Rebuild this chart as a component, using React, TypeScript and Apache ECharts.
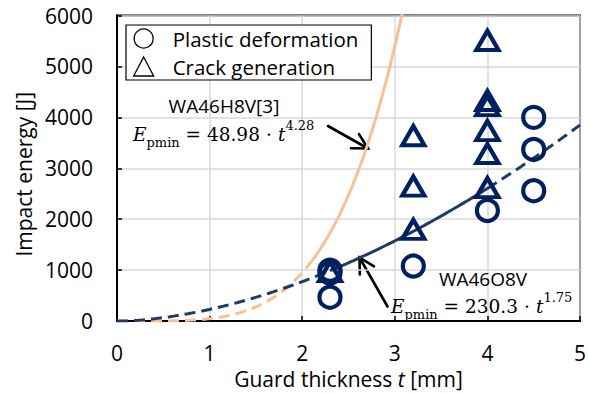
import React, { useEffect, useRef } from 'react';
import * as echarts from 'echarts';

// ---- data ----
const plasticT = [2.3, 2.3, 2.3, 3.2, 4.0, 4.5, 4.5, 4.5];
const plasticE = [470, 945, 1000, 1080, 2170, 2560, 3370, 4000];
const crackT = [2.3, 3.2, 3.2, 3.2, 4.0, 4.0, 4.0, 4.0, 4.0, 4.0];
const crackE = [975, 1800, 2650, 3640, 2620, 3290, 3740, 4230, 4330, 5510];

// fitted curves shown in the chart: E = a * t^b
const h8vCoef = 48.98;
const h8vExp = 4.28;
const o8vCoef = 230.3;
const o8vExp = 1.75;
// ranges (t) where curves are drawn solid / dashed
const h8vDashRange = [0, 2.1];
const h8vSolidRange = [2.1, 3.1];
const o8vDashRange1 = [0, 2.3];
const o8vSolidRange = [2.3, 4.0];
const o8vDashRange2 = [4.0, 5.0];

const xMin = 0, xMax = 5, xInterval = 1;
const yMin = 0, yMax = 6000, yInterval = 1000;

const seriesNames = ['Plastic deformation', 'Crack generation'];

function fitCurve(a: number, b: number, range: number[], steps = 60) {
  const pts: number[][] = [];
  for (let i = 0; i <= steps; i++) {
    const t = range[0] + ((range[1] - range[0]) * i) / steps;
    pts.push([t, a * Math.pow(t, b)]);
  }
  return pts;
}

function arrow(x1: number, y1: number, x2: number, y2: number) {
  const ang = Math.atan2(y2 - y1, x2 - x1);
  const len = 17;
  const spread = 0.5;
  const a1 = ang + Math.PI - spread;
  const a2 = ang + Math.PI + spread;
  const style = { stroke: '#000', lineWidth: 2.6, fill: null as any, lineCap: 'round' as const };
  return [
    { type: 'line', silent: true, shape: { x1, y1, x2, y2 }, style },
    {
      type: 'polyline',
      silent: true,
      shape: {
        points: [
          [x2 + len * Math.cos(a1), y2 + len * Math.sin(a1)],
          [x2, y2],
          [x2 + len * Math.cos(a2), y2 + len * Math.sin(a2)],
        ],
      },
      style,
    },
  ];
}

const serif = '"DejaVu Serif", "Liberation Serif", serif';
const sans = '"Open Sans", "Noto Sans", sans-serif';
const formulaRich = {
  e: { fontFamily: serif, fontStyle: 'italic', fontSize: 18.5, lineHeight: 30, color: '#000' },
  s: { fontFamily: serif, fontSize: 13, lineHeight: 14, verticalAlign: 'bottom', color: '#000' },
  m: { fontFamily: serif, fontSize: 18.5, lineHeight: 30, color: '#000' },
  t: { fontFamily: serif, fontStyle: 'italic', fontSize: 18.5, lineHeight: 30, color: '#000' },
  p: { fontFamily: serif, fontSize: 13, lineHeight: 14, verticalAlign: 'top', color: '#000' },
};

function formulaText(coef: number, exp: number) {
  return `{e|E}{s|pmin}{m| = ${coef} ⋅ }{t|t}{p|${exp.toFixed(2)}}`;
}

const navy = '#002060';
const lineBlue = '#1F3A64';
const peach = '#F9C095';

export default function App() {
  const ref = useRef<HTMLDivElement>(null);
  useEffect(() => {
    if (!ref.current) return;
    const chart = echarts.init(ref.current, undefined, { renderer: 'svg' });
    const scatterStyle = { color: 'rgba(0,0,0,0)', borderColor: navy, borderWidth: 4.2, opacity: 1 };
    const option: any = {
      animation: false,
      backgroundColor: '#fff',
      grid: {
        left: 117, right: 9, top: 15.5, bottom: 68.5,
        show: true, borderColor: '#000', borderWidth: 2, backgroundColor: 'transparent',
      },
      xAxis: {
        type: 'value', min: xMin, max: xMax, interval: xInterval,
        name: '{n|Guard thickness }{i|t}{n| [mm]}',
        nameLocation: 'middle', nameGap: 44,
        nameTextStyle: {
          rich: {
            n: { fontFamily: sans, fontSize: 21, color: '#000' },
            i: { fontFamily: sans, fontSize: 21, fontStyle: 'italic', color: '#000' },
          },
        },
        axisLine: { show: true, lineStyle: { color: '#000', width: 2 } },
        axisTick: { show: true, inside: true, length: 5, lineStyle: { color: '#000', width: 1.5 } },
        axisLabel: { fontFamily: sans, fontSize: 21, color: '#000', margin: 21, formatter: (v: number) => String(v) },
        splitLine: { show: true, lineStyle: { color: '#D9D9D9', width: 1.5 } },
      },
      yAxis: {
        type: 'value', min: yMin, max: yMax, interval: yInterval,
        name: 'Impact energy [J]',
        nameLocation: 'middle', nameGap: 80,
        nameTextStyle: { fontFamily: sans, fontSize: 21, color: '#000', padding: [0, 12, 0, 0] },
        axisLine: { show: true, lineStyle: { color: '#000', width: 2 } },
        axisTick: { show: true, inside: true, length: 5, lineStyle: { color: '#000', width: 1.5 } },
        axisLabel: { fontFamily: sans, fontSize: 21, color: '#000', margin: 24, formatter: (v: number) => String(v) },
        splitLine: { show: true, lineStyle: { color: '#D9D9D9', width: 1.5 } },
      },
      legend: {
        orient: 'vertical', left: 126, top: 25,
        data: [
          { name: seriesNames[0], icon: 'circle', itemStyle: { color: 'rgba(0,0,0,0)', borderColor: '#000', borderWidth: 1.3, opacity: 1 } },
          { name: seriesNames[1], icon: 'triangle', itemStyle: { color: 'rgba(0,0,0,0)', borderColor: '#000', borderWidth: 1.3, opacity: 1 } },
        ],
        itemWidth: 20, itemHeight: 19, itemGap: 7,
        padding: [3, 13, 3, 7],
        borderColor: '#000', borderWidth: 1.2, backgroundColor: '#fff',
        textStyle: { fontFamily: sans, fontSize: 20.5, color: '#000', padding: [0, 0, 0, 14] },
      },
      series: [
        { type: 'line', name: 'h8v-dash', data: fitCurve(h8vCoef, h8vExp, h8vDashRange), showSymbol: false, symbol: 'none', lineStyle: { color: peach, width: 3, type: [11, 6] }, z: 2 },
        { type: 'line', name: 'h8v-solid', data: fitCurve(h8vCoef, h8vExp, h8vSolidRange), showSymbol: false, symbol: 'none', lineStyle: { color: peach, width: 3 }, z: 2 },
        { type: 'line', name: 'o8v-dash1', data: fitCurve(o8vCoef, o8vExp, o8vDashRange1), showSymbol: false, symbol: 'none', lineStyle: { color: lineBlue, width: 3, type: [11, 6] }, z: 2 },
        { type: 'line', name: 'o8v-solid', data: fitCurve(o8vCoef, o8vExp, o8vSolidRange), showSymbol: false, symbol: 'none', lineStyle: { color: lineBlue, width: 3 }, z: 2 },
        { type: 'line', name: 'o8v-dash2', data: fitCurve(o8vCoef, o8vExp, o8vDashRange2), showSymbol: false, symbol: 'none', lineStyle: { color: lineBlue, width: 3, type: [11, 6] }, z: 2 },
        {
          type: 'scatter', name: seriesNames[0], symbol: 'circle', symbolSize: 21,
          data: plasticT.map((t, i) => [t, plasticE[i]]), itemStyle: scatterStyle, z: 3,
        },
        {
          type: 'scatter', name: seriesNames[1], symbol: 'triangle', symbolSize: [22, 19],
          data: crackT.map((t, i) => [t, crackE[i]]), itemStyle: scatterStyle, z: 3,
        },
      ],
      graphic: [
        { type: 'text', x: 224, y: 106, z: 10, style: { text: 'WA46H8V[3]', fontFamily: sans, fontSize: 19, fill: '#000', align: 'center', verticalAlign: 'middle', textAlign: 'center', textVerticalAlign: 'middle' } },
        { type: 'text', x: 133, y: 134, z: 10, style: { text: formulaText(h8vCoef, h8vExp), rich: formulaRich, align: 'left', verticalAlign: 'middle', textAlign: 'left', textVerticalAlign: 'middle' } },
        { type: 'text', x: 483, y: 279, z: 10, style: { text: 'WA46O8V', fontFamily: sans, fontSize: 19, fill: '#000', align: 'center', verticalAlign: 'middle', textAlign: 'center', textVerticalAlign: 'middle' } },
        { type: 'text', x: 391, y: 306, z: 10, style: { text: formulaText(o8vCoef, o8vExp), rich: formulaRich, align: 'left', verticalAlign: 'middle', textAlign: 'left', textVerticalAlign: 'middle' } },
        ...arrow(328, 126, 368, 148.5),
        ...arrow(387.5, 306.5, 359.5, 257.5),
      ],
    };
    chart.setOption(option);
    return () => chart.dispose();
  }, []);
  return <div ref={ref} style={{ position: 'fixed', left: 0, top: 0, width: 589, height: 394 }} />;
}
